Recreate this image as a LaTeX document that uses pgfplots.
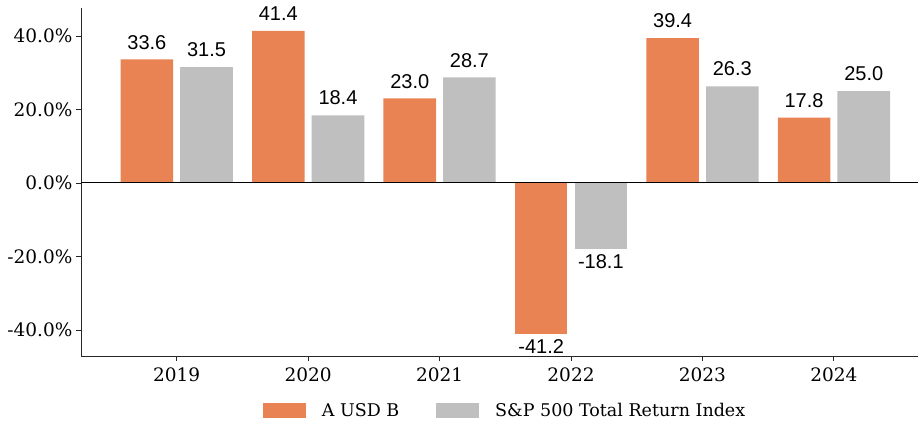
\documentclass[border=0pt]{standalone}
\usepackage{pgfplots}
\pgfplotsset{compat=1.18}
\usepackage{fontspec}
\setmainfont{DejaVu Serif}
\newfontfamily\labelfont{Liberation Sans}
\definecolor{orng}{RGB}{234,131,83}
\definecolor{gry}{RGB}{191,191,191}
\begin{document}
\begin{tikzpicture}
\begin{axis}[
  at={(0pt,0pt)}, anchor=south west,
  scale only axis, width=837pt, height=348pt,
  xmin=-0.728, xmax=5.64, ymin=-47.1, ymax=47.6,
  clip=false,
  axis x line*=bottom, axis y line*=left,
  axis line style={-, black!85, line width=0.8pt},
  xtick={0,1,2,3,4,5},
  xticklabels={2019,2020,2021,2022,2023,2024},
  ytick={-40,-20,0,20,40},
  yticklabel={\pgfmathprintnumber[fixed,fixed zerofill,precision=1,assume math mode=true]{\tick}\%},
  tick align=outside, major tick length=5pt,
  tick style={black!85, line width=0.8pt},
  ticklabel style={font=\fontsize{18.5}{20}\selectfont},
  xticklabel style={yshift=-3pt},
  nodes near coords={\pgfmathprintnumber[fixed,fixed zerofill,precision=1,assume math mode=true]{\pgfplotspointmeta}},
  every node near coord/.append style={font=\labelfont\fontsize{20}{22}\selectfont, text=black, inner ysep=5pt},
  legend columns=2,
  legend style={draw=none, at={(0.5066,-0.158)}, anchor=center,
    font=\fontsize{17.5}{20}\selectfont,
    /tikz/every even column/.append style={column sep=35pt}},
  legend cell align=left,
  bars/.style={ybar, bar width=0.4, bar shift=0pt, draw=none},
  pos/.style={every node near coord/.append style={yshift=5pt}},
]
% A USD B (positive values)
\addplot[bars, fill=orng, pos,
  legend image code/.code={\fill[orng] (0pt,-7.5pt) rectangle (43pt,7.5pt); \path (57pt,0pt);}]
  coordinates {(-0.227,33.6) (0.773,41.4) (1.773,23.0) (3.773,39.4) (4.773,17.8)};
\addlegendentry{A USD B}
% S&P 500 (positive values)
\addplot[bars, fill=gry, pos,
  legend image code/.code={\fill[gry] (0pt,-7.5pt) rectangle (43pt,7.5pt); \path (57pt,0pt);}]
  coordinates {(0.227,31.5) (1.227,18.4) (2.227,28.7) (4.227,26.3) (5.227,25.0)};
\addlegendentry{S\&P 500 Total Return Index}
% negative values
\addplot[bars, fill=orng, forget plot] coordinates {(2.773,-41.2)};
\addplot[bars, fill=gry, forget plot] coordinates {(3.227,-18.1)};
\draw[black, line width=1pt] ({rel axis cs:0,0}|-{axis cs:0,0}) -- ({rel axis cs:1,0}|-{axis cs:0,0});
\end{axis}
\pgfresetboundingbox
\path[use as bounding box] (-81pt,-70pt) rectangle (837pt,356pt);
\end{tikzpicture}
\end{document}
